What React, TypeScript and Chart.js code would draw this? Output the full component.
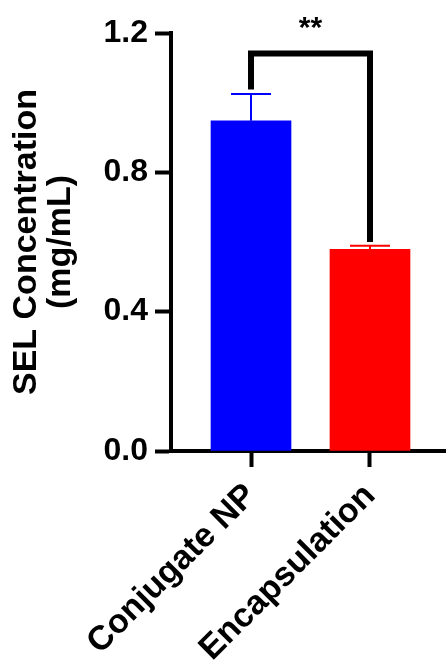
import React, { useEffect, useRef } from "react";
import { Chart, registerables } from "chart.js";

Chart.register(...registerables);

// ---- data ----
const categories = ["Conjugate NP", "Encapsulation"];
const means = [0.948, 0.579];
const errorsUp = [0.077, 0.01];
const barColors = ["#0000FF", "#FF0000"];
const yTickValues = [0, 0.4, 0.8, 1.2];
const yTitle = ["SEL Concentration", "(mg/mL)"];
const sigPair = [0, 1];
const sigLabel = "**";
const bracketLevel = 1.141;
const bracketLegEnds = [1.038, 0.6];

const FONT = "'Liberation Sans', Arial, Helvetica, sans-serif";

const overlayPlugin = {
  id: "overlay",
  afterDatasetsDraw(chart: any) {
    const { ctx, scales } = chart;
    const x = scales.x;
    const y = scales.y;
    ctx.save();
    // error bars (upper only)
    means.forEach((m: number, i: number) => {
      const px = x.getPixelForValue(i + 1);
      const top = y.getPixelForValue(m);
      const cap = y.getPixelForValue(m + errorsUp[i]);
      ctx.strokeStyle = barColors[i];
      ctx.lineWidth = 2;
      ctx.lineCap = "butt";
      ctx.beginPath();
      ctx.moveTo(px, top);
      ctx.lineTo(px, cap);
      ctx.moveTo(px - 20, cap);
      ctx.lineTo(px + 20, cap);
      ctx.stroke();
    });
    // significance bracket
    const x1 = x.getPixelForValue(sigPair[0] + 1);
    const x2 = x.getPixelForValue(sigPair[1] + 1);
    const yb = y.getPixelForValue(bracketLevel);
    ctx.strokeStyle = "#000";
    ctx.lineWidth = 6;
    ctx.lineJoin = "miter";
    ctx.lineCap = "butt";
    ctx.beginPath();
    ctx.moveTo(x1, y.getPixelForValue(bracketLegEnds[0]));
    ctx.lineTo(x1, yb);
    ctx.lineTo(x2, yb);
    ctx.lineTo(x2, y.getPixelForValue(bracketLegEnds[1]));
    ctx.stroke();
    ctx.fillStyle = "#000";
    ctx.font = `bold 30px ${FONT}`;
    ctx.textAlign = "center";
    ctx.textBaseline = "alphabetic";
    ctx.fillText(sigLabel, (x1 + x2) / 2, yb - 17);
    ctx.restore();
  },
};

export default function App() {
  const ref = useRef<HTMLCanvasElement | null>(null);

  useEffect(() => {
    if (!ref.current) return;
    const chart = new Chart(ref.current, {
      type: "bar",
      data: {
        datasets: [
          {
            data: means.map((v, i) => ({ x: i + 1, y: v })),
            backgroundColor: barColors,
            borderWidth: 0,
            barThickness: 80,
          } as any,
        ],
      },
      options: {
        responsive: false,
        animation: false,
        layout: { padding: { top: 33, left: 0, right: 0, bottom: 0 } },
        plugins: {
          legend: { display: false },
          tooltip: { enabled: false },
        },
        scales: {
          x: {
            type: "linear",
            min: 0.3277,
            max: 2.6387,
            offset: false,
            grid: {
              display: true,
              offset: false,
              drawOnChartArea: false,
              drawTicks: true,
              tickLength: 16,
              tickWidth: 4,
              tickColor: "#000",
            },
            border: { display: true, width: 4, color: "#000" },
            afterBuildTicks: (s: any) => {
              s.ticks = categories.map((_, i) => ({ value: i + 1 }));
            },
            afterFit: (s: any) => {
              s.height = 211;
            },
            ticks: {
              autoSkip: false,
              minRotation: 45,
              maxRotation: 45,
              color: "#000",
              padding: 9,
              font: { family: FONT, size: 34, weight: "bold" },
              callback: (v: any) => categories[Math.round(Number(v)) - 1] ?? "",
            },
          } as any,
          y: {
            min: 0,
            max: 1.2,
            grid: {
              display: true,
              drawOnChartArea: false,
              drawTicks: true,
              tickLength: 16,
              tickWidth: 4,
              tickColor: "#000",
            },
            border: { display: true, width: 4, color: "#000" },
            afterBuildTicks: (s: any) => {
              s.ticks = yTickValues.map((v) => ({ value: v }));
            },
            afterFit: (s: any) => {
              s.width = 171;
            },
            ticks: {
              color: "#000",
              padding: 7,
              font: { family: FONT, size: 32, weight: "bold" },
              callback: (v: any) => Number(v).toFixed(1),
            },
            title: {
              display: true,
              text: yTitle,
              color: "#000",
              font: { family: FONT, size: 34, weight: "bold", lineHeight: 1.0 },
              padding: { top: 10, bottom: 0 },
            },
          } as any,
        },
      },
      plugins: [overlayPlugin],
    });
    return () => chart.destroy();
  }, []);

  return (
    <div style={{ position: "absolute", left: 0, top: 0, width: 446, height: 662, background: "#fff" }}>
      <canvas ref={ref} width={446} height={662} style={{ width: 446, height: 662 }} />
    </div>
  );
}
